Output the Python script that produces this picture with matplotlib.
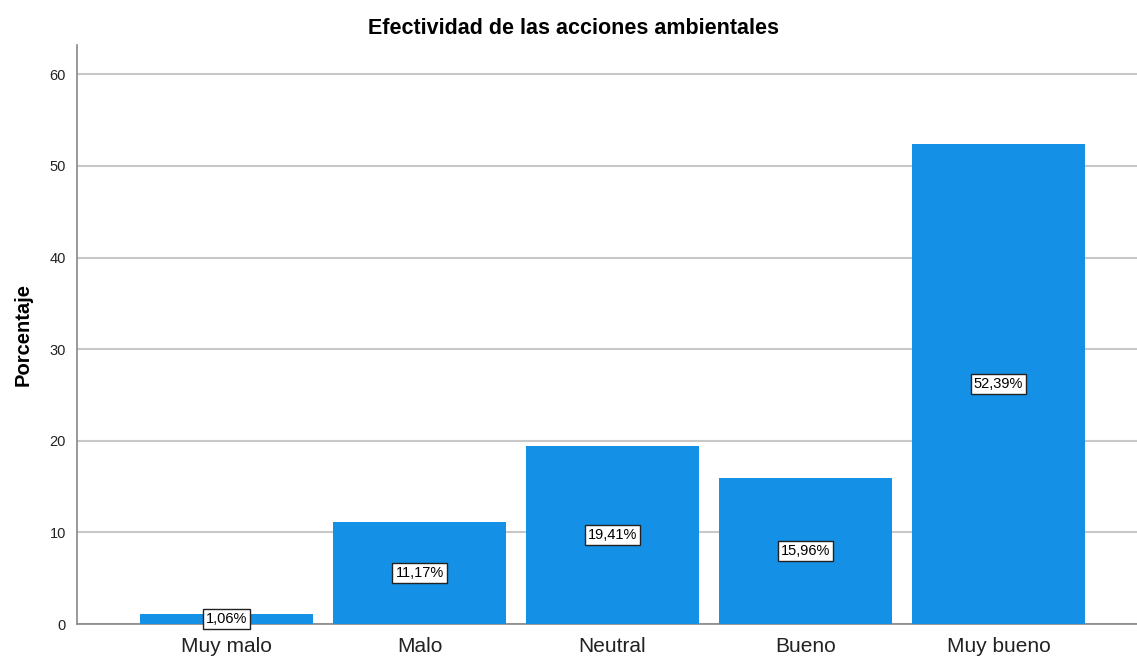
import matplotlib
matplotlib.use("Agg")
import matplotlib.pyplot as plt

plt.rcParams['font.family'] = ['Liberation Sans', 'DejaVu Sans']

# data
categorias = ['Muy malo', 'Malo', 'Neutral', 'Bueno', 'Muy bueno']
porcentajes = [1.06, 11.17, 19.41, 15.96, 52.39]
etiquetas = ['1,06%', '11,17%', '19,41%', '15,96%', '52,39%']
yticks = [0, 10, 20, 30, 40, 50, 60]

fig = plt.figure(figsize=(11.37, 6.59), dpi=100)
ax = fig.add_axes([0.0677, 0.0531, 0.9323, 0.8786])

x = list(range(len(categorias)))
ax.bar(x, porcentajes, width=0.896, color='#1490E6', zorder=3)

for xi, v, lab in zip(x, porcentajes, etiquetas):
    ax.text(xi, v / 2, lab, ha='center', va='center', fontsize=10.5, zorder=4,
            bbox=dict(boxstyle='square,pad=0.2', facecolor='white', edgecolor='#222222', linewidth=1))

ax.set_xlim(-0.775, 4.718)
ax.set_ylim(0, 63.2)
ax.set_yticks(yticks)
ax.set_xticks(x)
ax.set_xticklabels(categorias, fontsize=15, color='#222222')
ax.tick_params(axis='y', labelsize=10.5, length=0, pad=8, colors='#222222')
ax.tick_params(axis='x', length=0, pad=9)
ax.yaxis.grid(True, color='#c8c8c8', linewidth=1.5, zorder=0)

for s in ['top', 'right']:
    ax.spines[s].set_visible(False)
ax.spines['left'].set_color('#888888')
ax.spines['bottom'].set_color('#888888')
ax.spines['left'].set_linewidth(1.2)
ax.spines['bottom'].set_linewidth(1.2)

ax.set_ylabel('Porcentaje', fontsize=14.5, fontweight='bold', labelpad=12)
fig.text(0.504, 0.957, 'Efectividad de las acciones ambientales', ha='center', va='center',
         fontsize=15.5, fontweight='bold')

fig.savefig('out.png', dpi=100)
